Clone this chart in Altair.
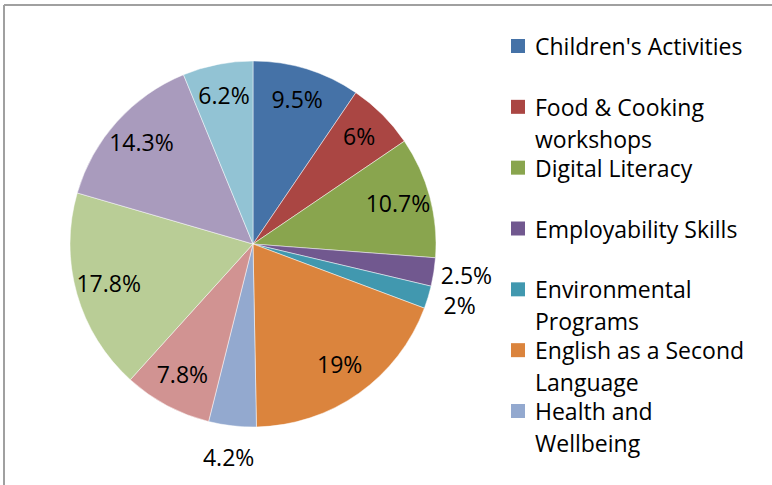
import altair as alt
import pandas as pd

categories = [
    "Children's Activities",
    "Food & Cooking workshops",
    "Digital Literacy",
    "Employability Skills",
    "Environmental Programs",
    "English as a Second Language",
    "Health and Wellbeing",
    "Category 8",
    "Category 9",
    "Category 10",
    "Category 11",
]
values = [9.5, 6, 10.7, 2.5, 2, 19, 4.2, 7.8, 17.8, 14.3, 6.2]
colors = ["#4572A7", "#AA4643", "#89A54E", "#71588F", "#4198AF", "#DB843D",
          "#93A9CF", "#D19392", "#B9CD96", "#A99BBD", "#92C3D4"]

# legend shows only the first seven entries (as wrapped in the original)
legend_labels = [
    "Children's Activities",
    "Food & Cooking\nworkshops",
    "Digital Literacy",
    "Employability Skills",
    "Environmental\nPrograms",
    "English as a Second\nLanguage",
    "Health and\nWellbeing",
]

FONT = "Open Sans"
FS = 23
CX, CY, R = 253, 244, 183

pie_df = pd.DataFrame({"category": categories, "value": values, "idx": list(range(len(values)))})
leg_df = pd.DataFrame({"category": categories[:7], "label": legend_labels, "idx": list(range(7))})

color = alt.Color("category:N", scale=alt.Scale(domain=categories, range=colors), legend=None)

arcs = alt.Chart(pie_df).mark_arc(radius=R, stroke="white", strokeWidth=0.6, strokeOpacity=0.8).encode(
    theta=alt.Theta("value:Q", stack=True),
    order=alt.Order("idx:Q"),
    color=color,
    x=alt.value(CX),
    y=alt.value(CY),
)

labels = alt.Chart(pie_df).transform_joinaggregate(
    total="sum(value)"
).transform_window(
    cum="sum(value)", sort=[alt.SortField("idx")], frame=[None, 0]
).transform_calculate(
    ang="2 * PI * (datum.cum - datum.value / 2) / datum.total",
    txt="datum.value + '%'",
    r="datum.value < 5 ? 216 : 150",
).mark_text(font=FONT, fontSize=FS, color="black", align="center", baseline="middle").encode(
    theta=alt.Theta("ang:Q", scale=None, stack=None),
    radius=alt.Radius("r:Q", scale=None),
    text="txt:N",
    x=alt.value(CX),
    y=alt.value(CY),
)

yscale = alt.Scale(domain=[0, 6], range=[46, 411])

leg_sq = alt.Chart(leg_df).mark_square(size=196, opacity=1).encode(
    x=alt.value(518),
    y=alt.Y("idx:Q", scale=yscale, axis=None),
    color=color,
)

leg_tx = alt.Chart(leg_df).mark_text(
    font=FONT, fontSize=FS, color="black", align="left", baseline="alphabetic",
    lineBreak="\n", lineHeight=32, dy=9,
).encode(
    x=alt.value(535),
    y=alt.Y("idx:Q", scale=yscale, axis=None),
    text="label:N",
)

one = pd.DataFrame({"k": [0]})
border_top = alt.Chart(one).mark_rule(color="#A0A0A0", strokeWidth=2).encode(
    x=alt.value(4), x2=alt.value(772), y=alt.value(5)
)
border_left = alt.Chart(one).mark_rule(color="#A0A0A0", strokeWidth=2).encode(
    x=alt.value(4), y=alt.value(5), y2=alt.value(485)
)

chart = alt.layer(arcs, labels, leg_sq, leg_tx, border_top, border_left).properties(
    width=772, height=485, padding=0, autosize=alt.AutoSizeParams(type="none"),
    background="white",
).configure_view(stroke=None)

chart.save("out.html", embed_options={"renderer": "svg", "actions": False})
